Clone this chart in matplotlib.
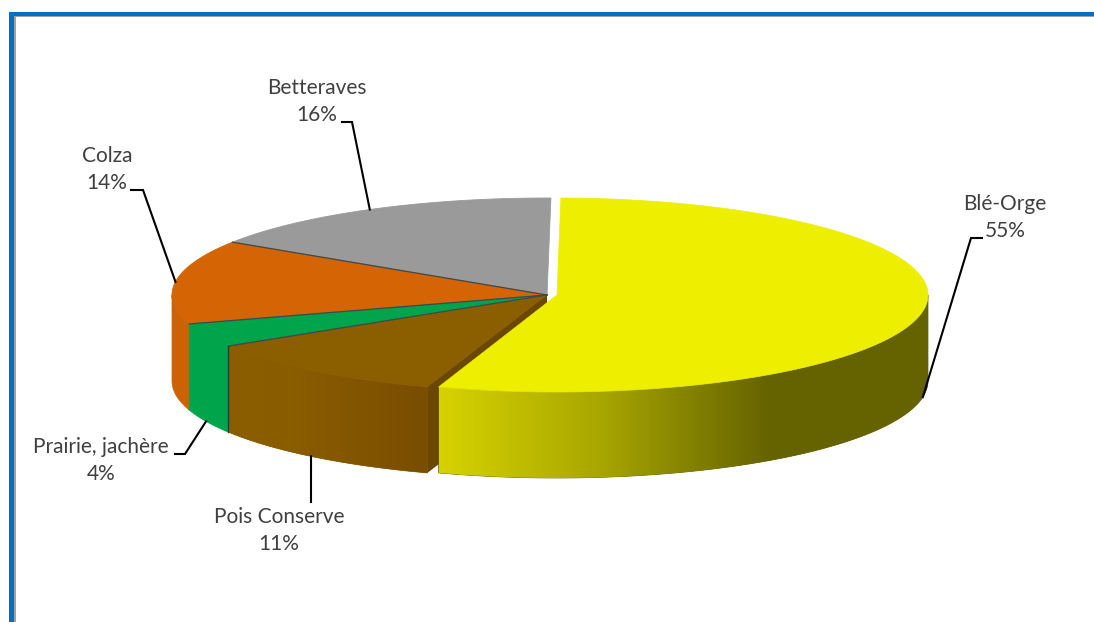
import numpy as np
import matplotlib
matplotlib.use("Agg")
import matplotlib.pyplot as plt
from matplotlib.patches import Polygon, Rectangle

# Share of each crop, clockwise from the top of the pie
crops = ["Blé-Orge", "Pois Conserve", "Prairie, jachère", "Colza", "Betteraves"]
shares = [55, 11, 4, 14, 16]
top_colors = ["#EEEE00", "#8B5E00", "#00A44A", "#D46404", "#9A9A9A"]
side_colors = ["#666400", "#855A00", "#00A44A", "#CC6204", "#9A9A9A"]

# Label centre, leader tail and leader elbow for each crop
label_pos = [(1005, 204), (279, 517), (101, 447), (107, 156), (317, 88)]
leader_tail = [(982, 238), (311, 502), (175, 454), (131, 190), (342, 122)]
leader_elbow = [(971, 238), (311, 480), (185, 454), (143, 190), (352, 122)]
leader_frac = [0.5, 0.515, 0.5, 0.5, 0.5]

# Pie geometry in pixels
cx, cy = 547, 295
rx, ry = 375, 97
depth = 86
explode_dx = 10
start_angle = 0.6

plt.rcParams["font.family"] = ["Lato", "DejaVu Sans"]
fig = plt.figure(figsize=(10.94, 6.22), dpi=100)
ax = fig.add_axes([0, 0, 1, 1])
ax.set_xlim(0, 1094)
ax.set_ylim(622, 0)
ax.axis("off")


def rim(t, x0, y0=cy, rad_x=rx):
    t = np.radians(t)
    return x0 + rad_x * np.sin(t), y0 - ry * np.cos(t)


def side_poly(t0, t1, x0, rad_x=rx):
    t = np.linspace(t0, t1, 80)
    x, y = rim(t, x0, rad_x=rad_x)
    upper = np.column_stack([x, y])
    lower = np.column_stack([x, y + depth])[::-1]
    return np.vstack([upper, lower])


def gradient_side(poly, stops_x, stops_rgb, base_color, z):
    # horizontal colour ramp clipped to the side of a slice
    patch = Polygon(poly, closed=True, fc=base_color, ec=base_color, lw=0.5, zorder=z)
    ax.add_patch(patch)
    xs = np.arange(poly[:, 0].min(), poly[:, 0].max() + 1)
    ramp = np.array([np.interp(xs, stops_x, [c[i] for c in stops_rgb]) for i in range(3)]).T / 255
    im = ax.imshow(ramp[np.newaxis, :, :], aspect="auto", zorder=z,
                   extent=[xs[0], xs[-1], poly[:, 1].max(), poly[:, 1].min()])
    im.set_clip_path(patch)


# Blue frame with its grey inner shadow
ax.add_patch(Rectangle((9, 15.5), 6.5, 622, fc="#A0A0A0", ec="none"))
ax.add_patch(Rectangle((9, 15.5), 1085, 1.7, fc="#A0A0A0", ec="none"))
ax.add_patch(Rectangle((9, 12), 4.5, 622, fc="#0070C0", ec="none"))
ax.add_patch(Rectangle((9, 12), 1085, 3.6, fc="#0070C0", ec="none"))

angles = start_angle + 3.6 * np.concatenate([[0], np.cumsum(shares)])
t_start = angles[:-1]
t_end = angles[1:]

# Back slices first, the exploded slice last
for i in [4, 3, 2, 1]:
    t0, t1 = t_start[i], t_end[i]

    # front wall, only the part facing the viewer
    a, b = max(t0, 90), min(t1, 270)
    if a < b:
        if i == 1:
            gradient_side(side_poly(a, b, cx), [226, 300, 422],
                          [(139, 94, 0), (137, 92, 0), (122, 78, 0)], side_colors[i], 2 + 4 - i)
        else:
            ax.add_patch(Polygon(side_poly(a, b, cx), closed=True, fc=side_colors[i],
                                 ec=side_colors[i], lw=0.5, zorder=2 + 4 - i))

    t = np.linspace(t0, t1, 80)
    x, y = rim(t, cx)
    pts = np.vstack([[cx, cy], np.column_stack([x, y])])
    ax.add_patch(Polygon(pts, closed=True, fc=top_colors[i], ec=top_colors[i], lw=0.6, zorder=8))

    # dark seam along the start of the slice
    sx, sy = rim(t1, cx)
    if i != 4:
        ax.plot([cx, sx], [cy, sy], color="#3C4A50", lw=0.9, zorder=9)

# Dark seam down the pea slice where it meets the green one
px, py = rim(t_end[1], cx)
ax.plot([px, px], [py, py + depth], color="#0F4A30", lw=1.0, zorder=9)

# Inner wall of the pea slice, seen through the gap
wx, wy = rim(t_start[1], cx)
ax.add_patch(Polygon([(cx, cy), (wx, wy), (wx, wy + depth), (cx, cy + depth)], closed=True,
                     fc="#6B4700", ec="none", zorder=9))

# Exploded wheat slice
cx0 = cx + explode_dx
rx0 = 371
gradient_side(side_poly(90, t_end[0], cx0, rad_x=rx0),
              [434, 600, 700, 770, 928],
              [(216, 212, 0), (168, 166, 0), (128, 126, 0), (101, 99, 0), (101, 99, 0)],
              side_colors[0], 10)
t = np.linspace(t_start[0], t_end[0], 160)
x, y = rim(t, cx0, rad_x=rx0)
ax.add_patch(Polygon(np.vstack([[cx0, cy], np.column_stack([x, y])]), closed=True,
                     fc=top_colors[0], ec=top_colors[0], lw=0.5, zorder=11))

# Leader lines and labels
for i, crop in enumerate(crops):
    t_mid = t_start[i] + leader_frac[i] * (t_end[i] - t_start[i])
    x0 = cx0 if i == 0 else cx
    ax_, ay_ = rim(t_mid, x0, rad_x=rx0 if i == 0 else rx)
    # leaders of the front slices land on the bottom of the wall
    if 90 <= t_mid <= 270:
        ay_ += depth
    ax.plot([leader_tail[i][0], leader_elbow[i][0], ax_],
            [leader_tail[i][1], leader_elbow[i][1], ay_],
            color="black", lw=1.5, zorder=12, solid_joinstyle="miter")
    lx, ly = label_pos[i]
    ax.text(lx, ly, crop, ha="center", va="center", fontsize=15, color="#404040", zorder=13)
    ax.text(lx, ly + 27, f"{shares[i]}%", ha="center", va="center", fontsize=15,
            color="#404040", zorder=13)

ax.set_xlim(0, 1094)
ax.set_ylim(622, 0)
fig.savefig("out.png", dpi=100, facecolor="white")
